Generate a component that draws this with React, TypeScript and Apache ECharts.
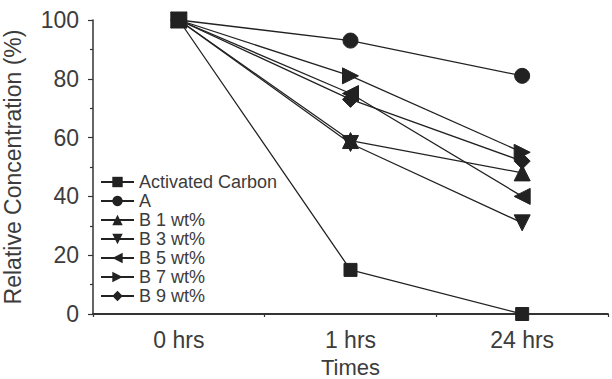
import React, { useEffect, useRef } from "react";
import * as echarts from "echarts";

const categories = ["0 hrs", "1 hrs", "24 hrs"];
const seriesNames = ["Activated Carbon", "A", "B 1 wt%", "B 3 wt%", "B 5 wt%", "B 7 wt%", "B 9 wt%"];
const activatedCarbon = [100, 15, 0];
const seriesA = [100, 93, 81];
const b1 = [100, 59, 48];
const b3 = [100, 58, 31];
const b5 = [100, 75, 40];
const b7 = [100, 81, 55];
const b9 = [100, 73, 52];
const yTicks = [0, 20, 40, 60, 80, 100];

const seriesValues = [activatedCarbon, seriesA, b1, b3, b5, b7, b9];
const symbols = ["rect", "circle", "triangle", "triangle", "triangle", "triangle", "diamond"];
const rotations = [0, 0, 0, 180, 90, -90, 0];
const sizes = [13, 15, 16, 16, 16, 16, 16];

export default function App() {
  const ref = useRef<HTMLDivElement>(null);
  useEffect(() => {
    if (!ref.current) return;
    const chart = echarts.init(ref.current, undefined, { renderer: "svg" });
    const font = "Liberation Sans, Arial, Helvetica, sans-serif";
    const ink = "#222";
    const txt = "#3c3c3c";
    chart.setOption({
      animation: false,
      backgroundColor: "#fff",
      textStyle: { fontFamily: font },
      grid: { left: 93, top: 20, width: 515, height: 294, containLabel: false, outerBoundsMode: "none" },
      legend: {
        orient: "vertical",
        left: 100,
        top: 173,
        padding: 0,
        itemWidth: 33,
        itemHeight: 13,
        itemGap: 1,
        data: seriesNames,
        textStyle: { fontFamily: font, fontSize: 18, color: txt, lineHeight: 18 },
      },
      xAxis: [
        {
          type: "category",
          data: categories,
          boundaryGap: true,
          position: "bottom",
          axisLine: { lineStyle: { color: "#333", width: 1.8 } },
          axisTick: { alignWithLabel: true, length: 6, lineStyle: { color: "#333", width: 1.2 } },
          axisLabel: { fontFamily: font, fontSize: 23, color: txt, margin: 14 },
          name: "Times",
          nameLocation: "middle",
          nameGap: 42,
          nameTextStyle: { fontFamily: font, fontSize: 22, color: txt },
          splitLine: { show: false },
        },
        {
          type: "category",
          data: categories,
          boundaryGap: true,
          position: "bottom",
          axisLine: { show: false },
          axisTick: { show: true, length: 3, lineStyle: { color: "#333", width: 1.2 } },
          axisLabel: { show: false },
          splitLine: { show: false },
        },
      ],
      yAxis: {
        type: "value",
        min: yTicks[0],
        max: yTicks[yTicks.length - 1],
        interval: 20,
        axisLine: { show: true, lineStyle: { color: "#333", width: 1.5 } },
        axisTick: { show: true, length: 5, lineStyle: { color: "#333", width: 1.2 } },
        minorTick: { show: true, splitNumber: 2, length: 3, lineStyle: { color: "#333", width: 1.2 } },
        axisLabel: { fontFamily: font, fontSize: 23, color: txt, margin: 14 },
        splitLine: { show: false },
        name: "Relative Concentration (%)",
        nameLocation: "middle",
        nameGap: 69,
        nameTextStyle: { fontFamily: font, fontSize: 23, color: txt },
      },
      series: seriesNames.map((name, i) => ({
        name,
        type: "line",
        xAxisIndex: 0,
        data: seriesValues[i],
        symbol: symbols[i],
        symbolRotate: rotations[i],
        symbolSize: sizes[i],
        showAllSymbol: true,
        lineStyle: { color: ink, width: 1.3 },
        itemStyle: { color: ink, borderColor: ink },
        z: 2 + i,
      })),
    });
    return () => chart.dispose();
  }, []);
  return (
    <div
      ref={ref}
      style={{ position: "fixed", left: 0, top: 0, width: 612, height: 379, background: "#fff" }}
    />
  );
}
